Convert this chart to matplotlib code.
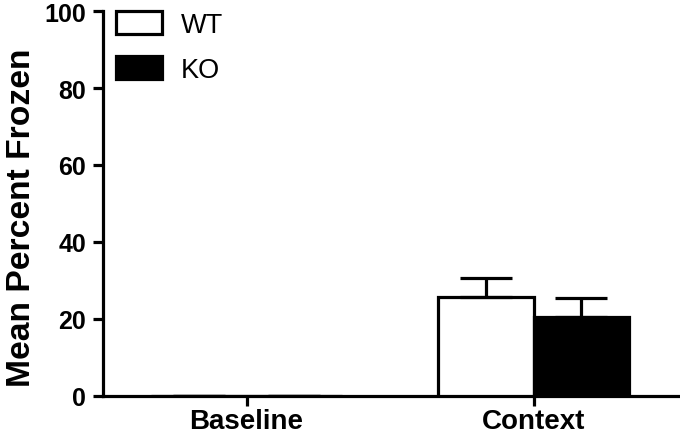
import matplotlib
matplotlib.use("Agg")
import matplotlib.pyplot as plt
from matplotlib.patches import Patch
import numpy as np

plt.rcParams['font.family'] = ['Liberation Sans', 'DejaVu Sans']

conditions = ['Baseline', 'Context']
groups = ['WT', 'KO']
wt_mean = [0.0, 25.8]
wt_sem = [0.0, 4.8]
ko_mean = [0.0, 20.5]
ko_sem = [0.0, 5.0]
y_ticks = [0, 20, 40, 60, 80, 100]

fig = plt.figure(figsize=(6.8, 4.35), dpi=100)
ax = fig.add_axes([0.1515, 0.0874, 0.8485, 0.885])

x = np.arange(len(conditions))
w = 0.333
lw = 2.3

err_kw = dict(ecolor='black', elinewidth=lw, capthick=lw, capsize=19)
ax.bar(x - w / 2, wt_mean, w, color='white', edgecolor='black', linewidth=lw,
       yerr=[np.zeros(2), wt_sem], error_kw=err_kw, zorder=3)
ax.bar(x + w / 2, ko_mean, w, color='black', edgecolor='black', linewidth=lw,
       yerr=[np.zeros(2), ko_sem], error_kw=err_kw, zorder=3)

ax.set_xlim(-0.5, 1.51)
ax.set_ylim(0, 100)
ax.set_yticks(y_ticks)
ax.set_xticks(x)
ax.set_xticklabels(conditions, fontsize=20, fontweight='bold')
for lab in ax.get_yticklabels():
    lab.set_fontsize(18)
    lab.set_fontweight('bold')
ax.set_ylabel('Mean Percent Frozen', fontsize=24.2, fontweight='bold')
ax.yaxis.set_label_coords(-0.115, 0.465)

for side in ['top', 'right']:
    ax.spines[side].set_visible(False)
for side in ['left', 'bottom']:
    ax.spines[side].set_linewidth(lw)
ax.tick_params(axis='both', width=lw, length=7.5)
ax.tick_params(axis='y', pad=4.5)
ax.tick_params(axis='x', pad=1)

handles = [Patch(facecolor='white', edgecolor='black', linewidth=lw),
           Patch(facecolor='black', edgecolor='black', linewidth=lw)]
ax.legend(handles, groups, loc='upper left', bbox_to_anchor=(-0.01, 1.05),
          frameon=False, fontsize=19.5, handlelength=1.7, handleheight=0.95,
          handletextpad=0.7, labelspacing=0.68, borderaxespad=0.3)

fig.savefig('out.png', dpi=100)
